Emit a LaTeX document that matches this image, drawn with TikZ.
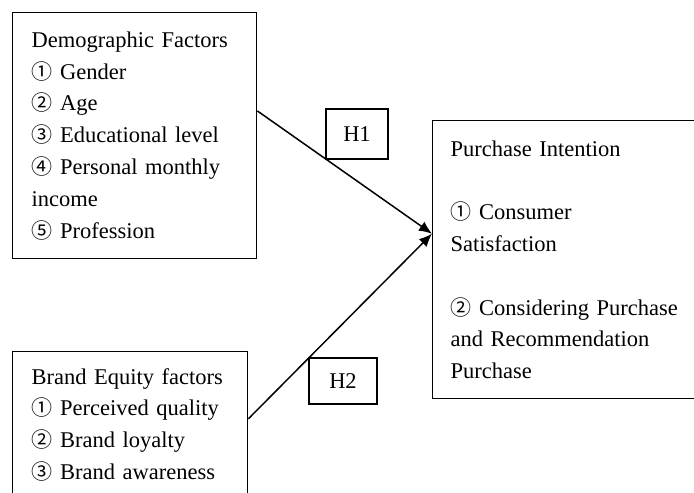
\documentclass[tikz,border=0pt]{standalone}
\usepackage{fontspec}
\setmainfont{Liberation Serif}
\newfontfamily\circfont{Noto Sans CJK SC}
\usetikzlibrary{arrows.meta,calc}
\newcommand{\cnum}[1]{{\circfont\fontsize{21}{21}\selectfont #1}}
\begin{document}
\begin{tikzpicture}[x=1pt,y=-1pt,
  every node/.style={font=\fontsize{22.5}{31.8}\selectfont},
  box/.style={draw,line width=1.4pt,align=left,anchor=north west,inner ysep=0pt},
  hbox/.style={draw,line width=1.4pt,inner sep=0pt},
  link/.style={line width=1.5pt,-{Latex[length=13pt,width=11pt]}}]
\useasboundingbox (0,0) rectangle (694,493);
\clip (0,0) rectangle (694,493);
\node[box,inner xsep=19pt,text width=206pt,minimum width=244pt,minimum height=246pt] (demo) at (12,12)
 {Demographic Factors\\ \cnum{①} Gender\\ \cnum{②} Age\\ \cnum{③} Educational level\\ \cnum{④} Personal monthly\\ income\\ \cnum{⑤} Profession};
\node[box,inner xsep=19pt,text width=197pt,minimum width=235pt,minimum height=146pt] (brand) at (12,351)
 {Brand Equity factors\\ \cnum{①} Perceived quality\\ \cnum{②} Brand loyalty\\ \cnum{③} Brand awareness};
\node[box,inner xsep=18pt,text width=240pt,minimum width=276pt,minimum height=278pt] (pi) at (432,120)
 {Purchase Intention\\ \mbox{}\\ \cnum{①} Consumer\\ Satisfaction\\ \mbox{}\\ \cnum{②} Considering Purchase\\ and Recommendation\\ Purchase};
\node[hbox,minimum width=62pt,minimum height=50pt] (h1) at (357,134) {H1};
\node[hbox,minimum width=68pt,minimum height=46pt] (h2) at (343,381) {H2};
\coordinate (tip) at ($(pi.north west)!0.407!(pi.south west)$);
\coordinate (s1) at ($(demo.north east)!0.4!(demo.south east)$);
\coordinate (s2) at ($(brand.north east)!0.46!(brand.south east)$);
\draw[link] (s1) -- (tip);
\draw[link] (s2) -- (tip);
\end{tikzpicture}
\end{document}
